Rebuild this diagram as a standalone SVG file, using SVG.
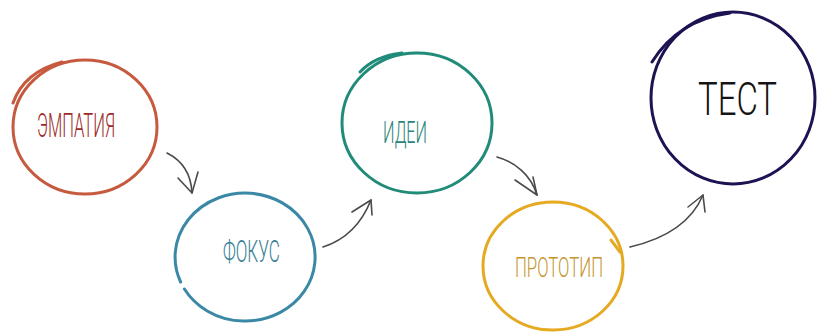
<svg xmlns="http://www.w3.org/2000/svg" width="821" height="334" viewBox="0 0 821 334">
  <defs>
    <style>
      .ring { fill: none; stroke-width: 3; stroke-linecap: round; }
      .label { font-family: "Roboto", "DejaVu Sans", sans-serif; font-weight: 300; }
      .arrow { fill: none; stroke: #4a4a4a; stroke-width: 1.6; stroke-linecap: round; stroke-linejoin: round; }
    </style>
  </defs>
  <rect width="821" height="334" fill="#ffffff"/>

  <g id="empathy">
    <ellipse class="ring" cx="85" cy="127" rx="72" ry="67" stroke="#c65a3f"/>
    <path class="ring" d="M13,103 Q24,72 62,62" stroke="#c65a3f"/>
    <text class="label" x="37" y="137" font-size="34" fill="#9b2b2b" textLength="78" lengthAdjust="spacingAndGlyphs">ЭМПАТИЯ</text>
  </g>

  <g id="focus">
    <path class="ring" d="M184.4,289 A70 64 0 1 0 180.6,282" stroke="#3b88a6"/>
    <text class="label" x="223" y="262" font-size="31" fill="#3a7f96" textLength="57" lengthAdjust="spacingAndGlyphs">ФОКУС</text>
  </g>

  <g id="ideas">
    <ellipse class="ring" cx="417" cy="123" rx="75" ry="70" stroke="#1f8b78"/>
    <path class="ring" d="M360,72 Q375,56 402,53" stroke="#1f8b78"/>
    <text class="label" x="383" y="143" font-size="32" fill="#2a8579" textLength="44" lengthAdjust="spacingAndGlyphs">ИДЕИ</text>
  </g>

  <g id="prototype">
    <ellipse class="ring" cx="553" cy="266" rx="70" ry="64" stroke="#e5a922"/>
    <path class="ring" d="M611,240 L620,252" stroke="#e5a922" stroke-width="4"/>
    <text class="label" x="515" y="277" font-size="28" fill="#c4952e" textLength="88" lengthAdjust="spacingAndGlyphs">ПРОТОТИП</text>
  </g>

  <g id="test">
    <ellipse class="ring" cx="733" cy="98" rx="82" ry="86" stroke="#1d1252"/>
    <path class="ring" d="M652,62 Q678,20 730,13" stroke="#1d1252"/>
    <text class="label" x="698" y="115" font-size="46" fill="#141414" textLength="79" lengthAdjust="spacingAndGlyphs">ТЕСТ</text>
  </g>

  <g id="connectors">
    <path class="arrow" d="M167,153 C181,160 191,172 192,193"/>
    <path class="arrow" d="M178,178 L192,193 L198,172"/>
    <path class="arrow" d="M323,247 C345,240 361,225 371,200"/>
    <path class="arrow" d="M352,212 L371,200 L372,215"/>
    <path class="arrow" d="M497,157 C515,162 531,175 537,195"/>
    <path class="arrow" d="M515,180 L537,195 L533,177"/>
    <path class="arrow" d="M630,247 C660,240 690,226 703,195"/>
    <path class="arrow" d="M688,207 L703,195 L705,212"/>
  </g>
</svg>
